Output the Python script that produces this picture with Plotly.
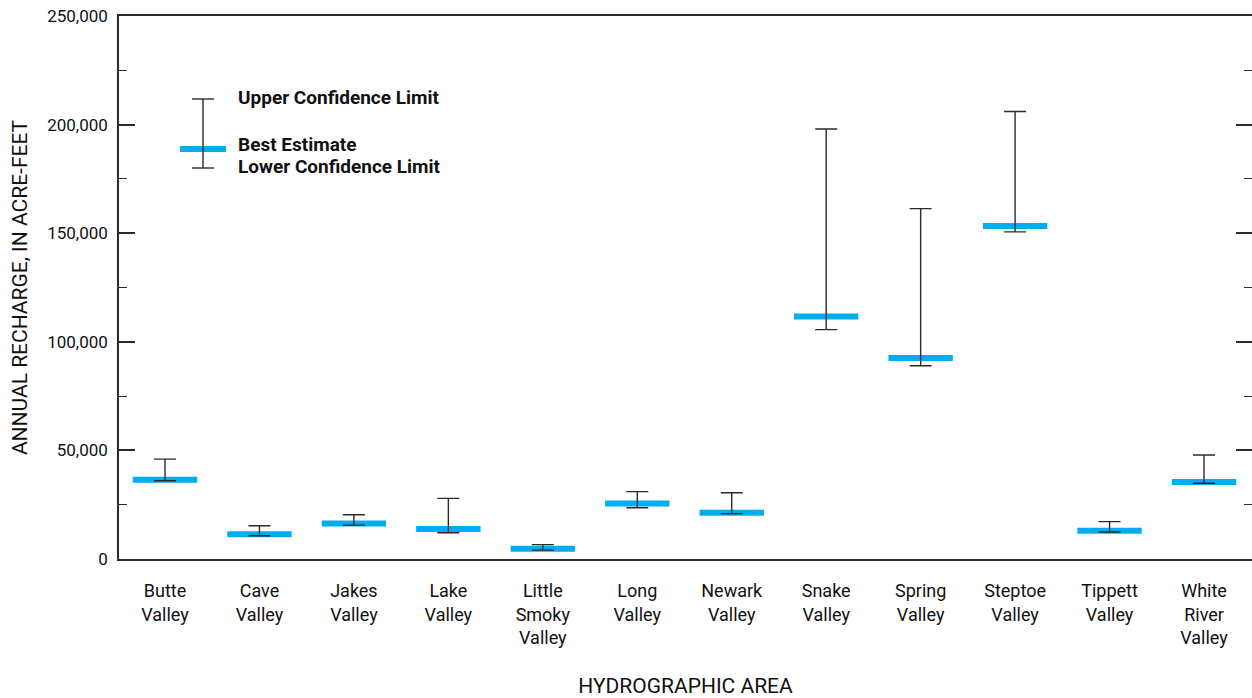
import plotly.graph_objects as go

# Annual recharge by hydrographic area (acre-feet)
areas = ["Butte<br>Valley", "Cave<br>Valley", "Jakes<br>Valley", "Lake<br>Valley",
         "Little<br>Smoky<br>Valley", "Long<br>Valley", "Newark<br>Valley", "Snake<br>Valley",
         "Spring<br>Valley", "Steptoe<br>Valley", "Tippett<br>Valley", "White<br>River<br>Valley"]
best = [36500, 11400, 16300, 13800, 4700, 25500, 21300, 111600, 92500, 153300, 13000, 35500]
upper = [46000, 15300, 20400, 27900, 6600, 31000, 30500, 198000, 161300, 206000, 17200, 47900]
lower = [36000, 10700, 15600, 12100, 4100, 23600, 20900, 105600, 89000, 150600, 12400, 34900]

FONT = "Roboto, Liberation Sans, sans-serif"
BLUE = "#00AEEF"
DARK = "#2b2b2b"

fig = go.Figure()

# best estimate bars
fig.add_trace(go.Scatter(
    x=areas, y=best, mode="markers", showlegend=False, hoverinfo="skip",
    marker=dict(symbol="line-ew-open", size=46, color=BLUE, line=dict(width=6, color=BLUE))))

# confidence limits drawn on top
fig.add_trace(go.Scatter(
    x=areas, y=best, mode="markers", showlegend=False,
    marker=dict(size=1, opacity=0),
    error_y=dict(type="data", symmetric=False,
                 array=[u - b for u, b in zip(upper, best)],
                 arrayminus=[b - l for b, l in zip(best, lower)],
                 color=DARK, thickness=1.4, width=11)))

# legend sample (paper coords of the plot area, 119..1252 x 16..559 px)
def px(x):
    return (x - 119) / (1252 - 119)

def py(y):
    return (559 - y) / (559 - 16)

shapes = [
    dict(type="line", xref="paper", yref="paper", x0=px(203), x1=px(203), y0=py(99), y1=py(168),
         line=dict(color=DARK, width=1.4)),
    dict(type="line", xref="paper", yref="paper", x0=px(192), x1=px(214), y0=py(99), y1=py(99),
         line=dict(color=DARK, width=1.4)),
    dict(type="line", xref="paper", yref="paper", x0=px(192), x1=px(214), y0=py(168), y1=py(168),
         line=dict(color=DARK, width=1.4)),
    dict(type="line", xref="paper", yref="paper", x0=px(180), x1=px(226), y0=py(149), y1=py(149),
         line=dict(color=BLUE, width=6), layer="below"),
]
annotations = [
    dict(text="<b>Upper Confidence Limit</b>", x=px(236), y=py(98)),
    dict(text="<b>Best Estimate</b>", x=px(236), y=py(145)),
    dict(text="<b>Lower Confidence Limit</b>", x=px(236), y=py(167)),
]
for a in annotations:
    a.update(xref="paper", yref="paper", xanchor="left", yanchor="middle", showarrow=False,
             font=dict(family=FONT, size=19, color="#111"))

fig.update_layout(
    width=1252, height=698,
    paper_bgcolor="white", plot_bgcolor="white",
    margin=dict(l=119, r=0, t=16, b=139, autoexpand=False),
    font=dict(family=FONT, size=17, color="#111"),
    shapes=shapes, annotations=annotations,
    xaxis=dict(range=[-0.487, 11.508], showline=True, mirror=True, linecolor=DARK, linewidth=1.5,
               ticks="", showgrid=False, zeroline=False, ticklabelstandoff=15, automargin=False,
               tickfont=dict(size=18),
               title=dict(text="HYDROGRAPHIC AREA", standoff=31, font=dict(size=21))),
    yaxis=dict(range=[0, 250000], showline=True, mirror="ticks", linecolor=DARK, linewidth=1.5,
               ticks="inside", ticklen=16, tickcolor=DARK, tickwidth=1.5, ticklabelstandoff=6,
               ticklabeloverflow="allow", automargin=False,
               tickvals=[0, 50000, 100000, 150000, 200000, 250000], tickformat=",",
               minor=dict(dtick=25000, ticks="inside", ticklen=8, tickcolor=DARK, tickwidth=1.2),
               showgrid=False, zeroline=False,
               title=dict(text="ANNUAL RECHARGE, IN ACRE-FEET", standoff=14, font=dict(size=21))),
)

# drop the default page margin so the figure sits at the window's corner
fig.write_html("out.html", config={"displayModeBar": False},
               post_script="document.body.style.margin = '0px';")
